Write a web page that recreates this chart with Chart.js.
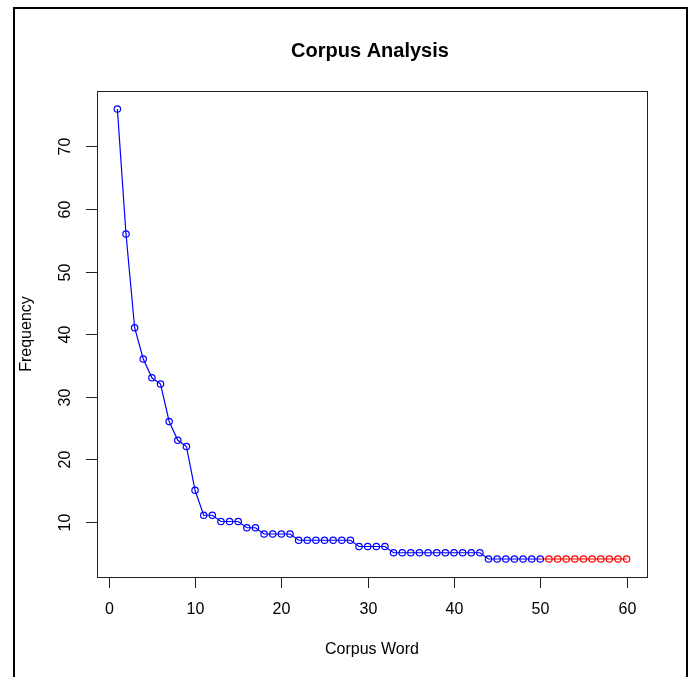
<!DOCTYPE html>
<html lang="en">
    <head>
        <script src="https://cdn.jsdelivr.net/npm/chart.js@4.4.0/dist/chart.umd.min.js"></script>
        <title>Corpus Analysis</title>
        <style>
            html, body { margin: 0; padding: 0; background: #fff; }
            #wrap { width: 693px; height: 677px; }
        </style>
    </head>
    <body>
        <div id="wrap">
            <canvas id="corpusChart" width="693" height="677"></canvas>
        </div>

        <script>
            // word frequencies, first 50 words (blue) and the last 10 (red)
            const topFreq = [
                76, 56, 41, 36, 33, 32, 26, 23, 22, 15,
                11, 11, 10, 10, 10, 9, 9, 8, 8, 8,
                8, 7, 7, 7, 7, 7, 7, 7, 6, 6,
                6, 6, 5, 5, 5, 5, 5, 5, 5, 5,
                5, 5, 5, 4, 4, 4, 4, 4, 4, 4
            ];
            const tailFreq = [4, 4, 4, 4, 4, 4, 4, 4, 4, 4];
            const xTicks = [0, 10, 20, 30, 40, 50, 60];
            const yTicks = [10, 20, 30, 40, 50, 60, 70];

            const freqs = topFreq.concat(tailFreq);
            const points = freqs.map((f, i) => ({x: i + 1, y: f}));
            const pointColors = freqs.map((f, i) => i < topFreq.length ? '#0000ff' : '#ff0000');

            //draws the R-style frame, axes, ticks and labels
            const rStyle = {
                id: 'rStyle',
                afterDraw(chart) {
                    const ctx = chart.ctx;
                    const a = chart.chartArea;
                    const xs = chart.scales.x, ys = chart.scales.y;
                    ctx.save();
                    ctx.strokeStyle = '#000';
                    ctx.fillStyle = '#000';

                    // outer frame
                    ctx.lineWidth = 2;
                    ctx.strokeRect(14, 8, 673, 720);

                    // plot box
                    ctx.lineWidth = 1;
                    ctx.strokeStyle = '#222';
                    ctx.strokeRect(a.left + 0.5, a.top + 0.5, a.right - a.left, a.bottom - a.top);

                    ctx.font = '16px "Liberation Sans", Arial, sans-serif';
                    ctx.textAlign = 'center';
                    ctx.textBaseline = 'middle';

                    // x axis
                    xTicks.forEach(v => {
                        const px = Math.round(xs.getPixelForValue(v)) + 0.5;
                        ctx.beginPath();
                        ctx.moveTo(px, a.bottom);
                        ctx.lineTo(px, a.bottom + 11);
                        ctx.stroke();
                        ctx.fillText(String(v), px, a.bottom + 33);
                    });

                    // y axis, labels turned like R does
                    yTicks.forEach(v => {
                        const py = Math.round(ys.getPixelForValue(v)) + 0.5;
                        ctx.beginPath();
                        ctx.moveTo(a.left, py);
                        ctx.lineTo(a.left - 11, py);
                        ctx.stroke();
                        ctx.save();
                        ctx.translate(a.left - 31, py);
                        ctx.rotate(-Math.PI / 2);
                        ctx.fillText(String(v), 0, 0);
                        ctx.restore();
                    });

                    const cx = (a.left + a.right) / 2;
                    const cy = (a.top + a.bottom) / 2;

                    ctx.fillText('Corpus Word', cx, 650);
                    ctx.save();
                    ctx.translate(27, cy);
                    ctx.rotate(-Math.PI / 2);
                    ctx.fillText('Frequency', 0, 0);
                    ctx.restore();

                    ctx.font = 'bold 20px "Liberation Sans", Arial, sans-serif';
                    ctx.fillText('Corpus Analysis', cx - 2, 51);
                    ctx.restore();
                }
            };

            let corpusChart = new Chart(document.getElementById('corpusChart').getContext('2d'), {
                type: 'line',
                plugins: [rStyle],
                data: {
                    datasets: [{
                        label: 'Frequency',
                        data: points,
                        borderColor: '#0000ff',
                        borderWidth: 1.2,
                        pointRadius: 3.2,
                        pointBorderWidth: 1.2,
                        pointBackgroundColor: 'rgba(0,0,0,0)',
                        pointBorderColor: pointColors,
                        tension: 0,
                        segment: {
                            borderColor: c => c.p1DataIndex >= topFreq.length ? '#ff0000' : '#0000ff'
                        }
                    }]
                },
                options: {
                    responsive: false,
                    animation: false,
                    events: [],
                    layout: {
                        padding: {left: 97, right: 46, top: 91, bottom: 100}
                    },
                    plugins: {
                        legend: {display: false},
                        title: {display: false},
                        tooltip: {enabled: false}
                    },
                    scales: {
                        x: {
                            type: 'linear',
                            display: false,
                            min: -1.36,
                            max: 62.36
                        },
                        y: {
                            type: 'linear',
                            display: false,
                            min: 1.12,
                            max: 78.88
                        }
                    }
                }
            });
        </script>
    </body>
</html>
